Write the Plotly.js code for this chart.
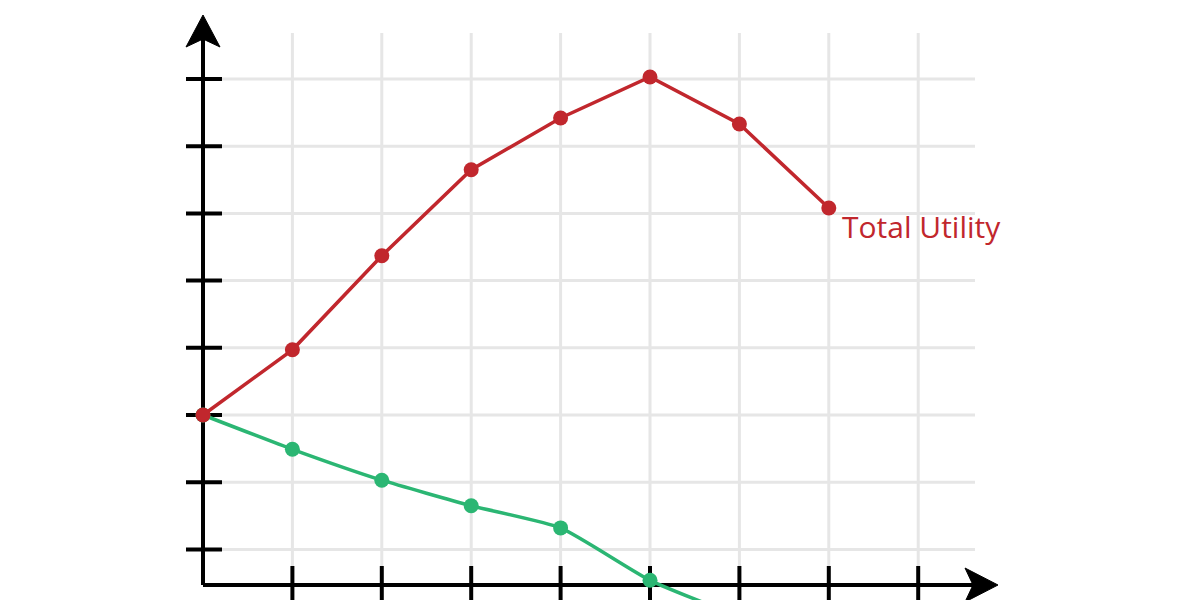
<!DOCTYPE html>
<html>
<head>
<meta charset="utf-8">
<script src="https://cdn.plot.ly/plotly-3.0.1.min.js"></script>
<style>html,body{margin:0;padding:0;background:#fff;}#chart{width:1200px;height:600px;}</style>
</head>
<body>
<div id="chart"></div>
<script>
// Data
const quantity = [0, 1, 2, 3, 4, 5, 6, 7];
const totalUtility = [0, 0.97, 2.37, 3.65, 4.42, 5.03, 4.33, 3.08];
const quantityMarginal = [0, 1, 2, 3, 4, 5, 6];
const marginalUtility = [0, -0.51, -0.97, -1.35, -1.68, -2.46, -3.0];
const xTicks = [1, 2, 3, 4, 5, 6, 7, 8];
const yTicks = [-2, -1, 0, 1, 2, 3, 4, 5];
const seriesLabel = "Total Utility";

const W = 1200, H = 600;
const X0 = 203, XU = 89.4;   // pixel of x=0, px per unit
const Y0 = 415, YU = 67.2;   // pixel of y=0, px per unit
const dx = p => (p - X0) / XU;
const dy = p => (Y0 - p) / YU;

const red = '#c1272d';
const green = '#2bb673';
const gridC = '#e6e6e6';

const shapes = [];
// gridlines
xTicks.forEach(t => shapes.push({type:'line', layer:'below', x0:t, x1:t, y0:dy(33), y1:dy(566), line:{color:gridC, width:3}}));
yTicks.forEach(t => shapes.push({type:'line', layer:'below', x0:dx(222), x1:dx(975), y0:t, y1:t, line:{color:gridC, width:3}}));
// axes
const axisY = dy(585);
shapes.push({type:'line', layer:'below', x0:0, x1:0, y0:axisY, y1:dy(30), line:{color:'#000', width:4}});
shapes.push({type:'line', layer:'below', x0:0, x1:dx(980), y0:axisY, y1:axisY, line:{color:'#000', width:4}});
// ticks
yTicks.forEach(t => shapes.push({type:'line', layer:'below', x0:dx(186), x1:dx(222), y0:t, y1:t, line:{color:'#000', width:4}}));
xTicks.forEach(t => shapes.push({type:'line', layer:'below', x0:t, x1:t, y0:dy(566), y1:dy(605), line:{color:'#000', width:4}}));
// arrowheads
const P = (px, py) => dx(px) + ',' + dy(py);
shapes.push({type:'path', layer:'below', path:'M' + P(203,15) + ' L' + P(220,47) + ' L' + P(203,39) + ' L' + P(186,47) + ' Z', fillcolor:'#000', line:{color:'#000', width:1}});
shapes.push({type:'path', layer:'below', path:'M' + P(998,585) + ' L' + P(965,568) + ' L' + P(973,585) + ' L' + P(965,602) + ' Z', fillcolor:'#000', line:{color:'#000', width:1}});

const traces = [
  {x: quantityMarginal, y: marginalUtility, type:'scatter', mode:'lines+markers',
   line:{color:green, width:3.5, shape:'spline', smoothing:0.5}, marker:{color:green, size:15}, hoverinfo:'skip'},
  {x: quantity, y: totalUtility, type:'scatter', mode:'lines+markers',
   line:{color:red, width:3.5}, marker:{color:red, size:15}, hoverinfo:'skip'}
];

const layout = {
  width: W, height: H,
  margin: {l:0, r:0, t:0, b:0},
  paper_bgcolor:'#fff', plot_bgcolor:'#fff',
  showlegend:false,
  xaxis:{range:[dx(0), dx(W)], visible:false, fixedrange:true},
  yaxis:{range:[dy(H), dy(0)], visible:false, fixedrange:true},
  shapes: shapes,
  annotations:[{
    x: quantity[quantity.length-1], y: totalUtility[totalUtility.length-1],
    xref:'x', yref:'y', text: seriesLabel, showarrow:false,
    xanchor:'left', yanchor:'middle', xshift:11, yshift:-18,
    font:{family:'Open Sans, sans-serif', size:30, color:red}
  }]
};

Plotly.newPlot('chart', traces, layout, {displayModeBar:false, staticPlot:true});
</script>
</body>
</html>
